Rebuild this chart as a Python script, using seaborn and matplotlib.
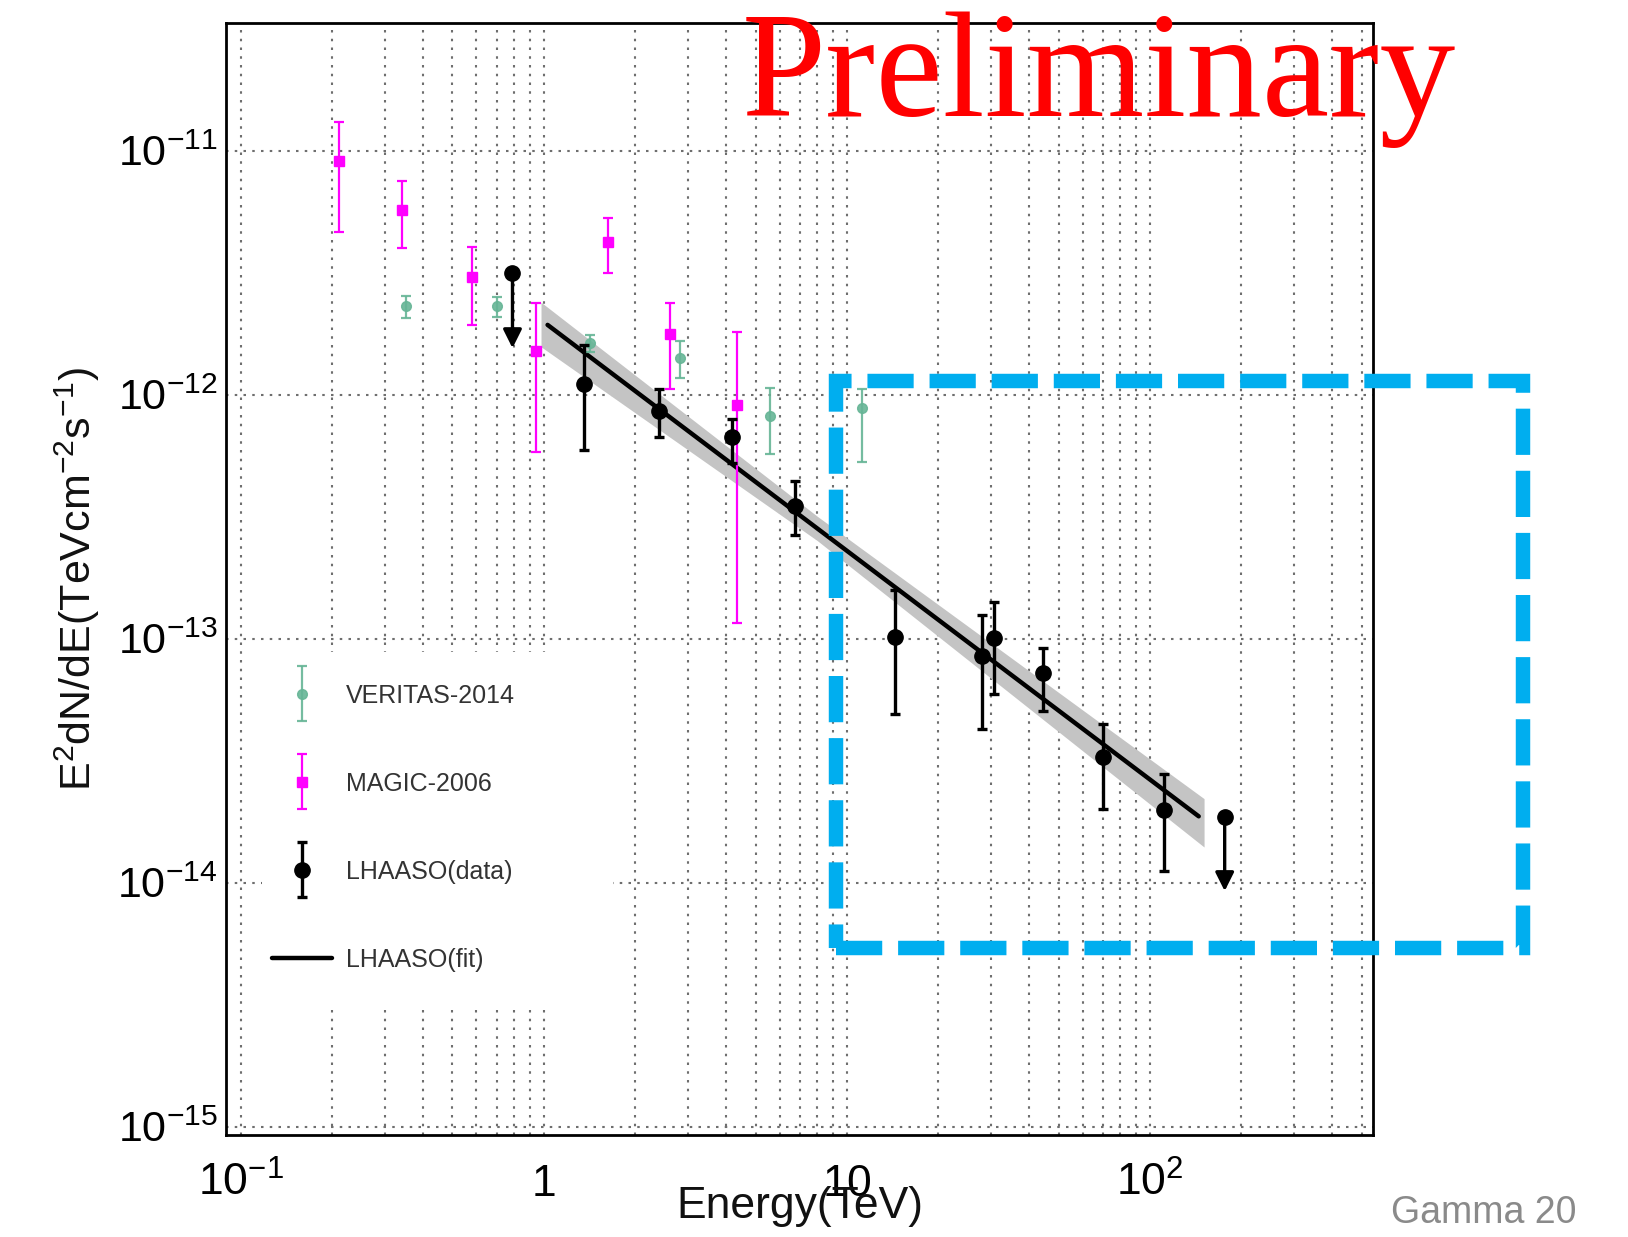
import numpy as np
import pandas as pd
import matplotlib
matplotlib.use("Agg")
import matplotlib.pyplot as plt
import seaborn as sns
from matplotlib.legend_handler import HandlerErrorbar
from matplotlib.container import ErrorbarContainer
from matplotlib.patches import Rectangle
from matplotlib.lines import Line2D
from matplotlib.ticker import FixedLocator, FixedFormatter, NullFormatter

# ---------------- data ----------------
veritas_E = [0.351, 0.702, 1.42, 2.81, 5.58, 11.2]
veritas_F = [2.30e-12, 2.30e-12, 1.63e-12, 1.41e-12, 8.15e-13, 8.81e-13]
veritas_lo = [2.06e-12, 2.08e-12, 1.50e-12, 1.17e-12, 5.71e-13, 5.28e-13]
veritas_hi = [2.54e-12, 2.52e-12, 1.75e-12, 1.65e-12, 1.06e-12, 1.05e-12]

magic_E = [0.211, 0.342, 0.581, 0.94, 1.63, 2.62, 4.34]
magic_F = [9.06e-12, 5.72e-12, 3.03e-12, 1.51e-12, 4.22e-12, 1.77e-12, 9.06e-13]
magic_lo = [4.62e-12, 3.98e-12, 1.93e-12, 5.83e-13, 3.15e-12, 1.05e-12, 1.16e-13]
magic_hi = [1.31e-11, 7.53e-12, 4.02e-12, 2.37e-12, 5.28e-12, 2.37e-12, 1.80e-12]

lhaaso_E = [1.36, 2.40, 4.17, 6.75, 14.4, 27.9, 30.6, 44.4, 70.2, 111.7]
lhaaso_F = [1.10e-12, 8.55e-13, 6.70e-13, 3.51e-13, 1.02e-13, 8.47e-14,
            1.01e-13, 7.24e-14, 3.27e-14, 1.99e-14]
lhaaso_lo = [5.94e-13, 6.70e-13, 5.24e-13, 2.67e-13, 4.89e-14, 4.26e-14,
             5.94e-14, 5.04e-14, 2.00e-14, 1.12e-14]
lhaaso_hi = [1.60e-12, 1.05e-12, 7.91e-13, 4.44e-13, 1.58e-13, 1.25e-13,
             1.41e-13, 9.16e-14, 4.48e-14, 2.80e-14]

ul_E = [0.789, 176.6]
ul_F = [3.15e-12, 1.85e-14]
ul_end = [1.55e-12, 9.24e-15]

fit_E = [1.03, 145.0]
fit_F = [1.93e-12, 1.87e-14]

band_E = [0.98, 8.0, 151.0]
band_lo = [1.57e-12, 2.52e-13, 1.40e-14]
band_hi = [2.39e-12, 3.17e-13, 2.21e-14]

x_major = [0.1, 1, 10, 100]
x_major_labels = ["$10^{-1}$", "$1$", "$10$", "$10^{2}$"]
y_major = [1e-15, 1e-14, 1e-13, 1e-12, 1e-11]
y_major_labels = ["$10^{-15}$", "$10^{-14}$", "$10^{-13}$", "$10^{-12}$", "$10^{-11}$"]

labels = ["VERITAS-2014", "MAGIC-2006", "LHAASO(data)", "LHAASO(fit)"]

# ---------------- style ----------------
sns.set_theme(style="white")
plt.rcParams["font.family"] = ["Liberation Sans", "DejaVu Sans"]
plt.rcParams["mathtext.fontset"] = "custom"
plt.rcParams["mathtext.rm"] = "Liberation Sans"
plt.rcParams["mathtext.it"] = "Liberation Sans:italic"
plt.rcParams["mathtext.bf"] = "Liberation Sans:bold"

VER_C = "#66b596"
MAG_C = "#ff00ff"

fig = plt.figure(figsize=(16.28, 12.37), dpi=100)
ax = fig.add_axes([226 / 1628, 1 - 1135 / 1237, 1147 / 1628, 1112 / 1237])
ax.set_xscale("log")
ax.set_yscale("log")
ax.set_xlim(0.0895, 545)
ax.set_ylim(9.25e-16, 3.33e-11)
ax.set_axisbelow(True)

# grid
ax.xaxis.set_major_locator(FixedLocator(x_major))
ax.xaxis.set_major_formatter(FixedFormatter(x_major_labels))
xminor = [m * d for d in [0.1, 1, 10, 100] for m in range(2, 10) if m * d < 545]
ax.xaxis.set_minor_locator(FixedLocator(xminor))
ax.xaxis.set_minor_formatter(NullFormatter())
ax.yaxis.set_major_locator(FixedLocator(y_major))
ax.yaxis.set_major_formatter(FixedFormatter(y_major_labels))
yminor = [m * d for d in [1e-16, 1e-15, 1e-14, 1e-13, 1e-12, 1e-11] for m in range(2, 10)]
ax.yaxis.set_minor_locator(FixedLocator(yminor))
ax.yaxis.set_minor_formatter(NullFormatter())

grid_kw = dict(color="#6e6e6e", linestyle=(0, (1.2, 3.0)), linewidth=1.5)
ax.grid(which="major", axis="both", **grid_kw)
ax.grid(which="minor", axis="x", **grid_kw)
ax.grid(which="minor", axis="y", visible=False)

# white legend backdrop hiding the grid
ax.add_patch(Rectangle((0.031, 0.115), 0.306, 0.319, transform=ax.transAxes,
                       facecolor="white", edgecolor="none", zorder=1.5))

# fit band + line
band = pd.DataFrame({"E": band_E, "lo": band_lo, "hi": band_hi})
ax.fill_between(band["E"], band["lo"], band["hi"], color="#c4c4c4", lw=0, zorder=2)
fit = pd.DataFrame({"E": fit_E, "F": fit_F})
sns.lineplot(data=fit, x="E", y="F", ax=ax, color="black", linewidth=3.2, zorder=3)

# VERITAS
vF = np.array(veritas_F)
ver = ax.errorbar(veritas_E, veritas_F,
                  yerr=[vF - np.array(veritas_lo), np.array(veritas_hi) - vF],
                  fmt="o", ms=7, color=VER_C, ecolor=VER_C, elinewidth=1.6,
                  capsize=3.5, capthick=1.6, zorder=4, alpha=0.9)

# MAGIC
mF = np.array(magic_F)
mag = ax.errorbar(magic_E, magic_F,
                  yerr=[mF - np.array(magic_lo), np.array(magic_hi) - mF],
                  fmt="s", ms=7.5, color=MAG_C, ecolor=MAG_C, elinewidth=1.6,
                  capsize=3.5, capthick=1.6, zorder=5)

# LHAASO data
lF = np.array(lhaaso_F)
lha = ax.errorbar(lhaaso_E, lhaaso_F,
                  yerr=[lF - np.array(lhaaso_lo), np.array(lhaaso_hi) - lF],
                  fmt="o", ms=11, color="black", ecolor="black", elinewidth=2.4,
                  capsize=3.5, capthick=2.4, zorder=6)

# LHAASO upper limits
ax.plot(ul_E, ul_F, "o", ms=11, color="black", zorder=6, linestyle="none")
for e, f0, f1 in zip(ul_E, ul_F, ul_end):
    ax.annotate("", xy=(e, f1), xytext=(e, f0),
                arrowprops=dict(arrowstyle="-|>", color="black", lw=2.4,
                                mutation_scale=28, shrinkA=0, shrinkB=0),
                zorder=6)

# ticks
ax.tick_params(axis="both", which="both", direction="in", top=False, right=False,
               colors="black", width=1.4)
ax.xaxis.set_tick_params(which="major", length=24, pad=44, labelsize=32)
ax.xaxis.set_tick_params(which="minor", length=12)
ax.yaxis.set_tick_params(which="major", length=18, pad=6, labelsize=31)
ax.yaxis.set_tick_params(which="minor", length=8.5)
for lab in ax.get_xticklabels():
    lab.set_verticalalignment("baseline")

for s in ax.spines.values():
    s.set_color("black")
    s.set_linewidth(2.0)
    s.set_visible(True)

# axis labels
ax.set_xlabel("Energy(TeV)", fontsize=32, color="#111111")
ax.xaxis.set_label_coords(0.5, -0.046)
ax.set_ylabel("E$^{2}$dN/dE(TeVcm$^{-2}$s$^{-1}$)", fontsize=31, color="#111111")
ax.yaxis.set_label_coords(-0.108, 0.5)

# legend
fit_handle = Line2D([], [], color="black", lw=3.2)
leg = ax.legend([ver, mag, lha, fit_handle], labels,
                loc="upper left", bbox_to_anchor=(0.0401, 0.406),
                frameon=False, fontsize=18, labelspacing=2.56,
                handlelength=2.4, handletextpad=0.56, borderpad=0,
                borderaxespad=0, numpoints=1,
                handler_map={ErrorbarContainer: HandlerErrorbar(yerr_size=1.1)})
for t in leg.get_texts():
    t.set_color("#333333")
leg.set_zorder(7)

# annotations
fig.text(742 / 1628, 1 - 116 / 1237, "Preliminary", color="#ff0000",
         family=["Liberation Serif", "DejaVu Serif"], fontsize=109,
         ha="left", va="baseline", zorder=10)
fig.text(1391 / 1628, 1 - 1223 / 1237, "Gamma 20", color="#8a8a8a",
         fontsize=27, ha="left", va="baseline")

# blue dashed highlight box
x0, x1 = 836 / 1628, 1523 / 1628
y0, y1 = 1 - 948 / 1237, 1 - 381 / 1237
fig.patches.append(Rectangle((x0, y0), x1 - x0, y1 - y0, transform=fig.transFigure,
                             fill=False, edgecolor="#00aeef", linewidth=10.4,
                             linestyle=(0, (3.2, 1.1)), zorder=20))

fig.savefig("out.png", dpi=100)
